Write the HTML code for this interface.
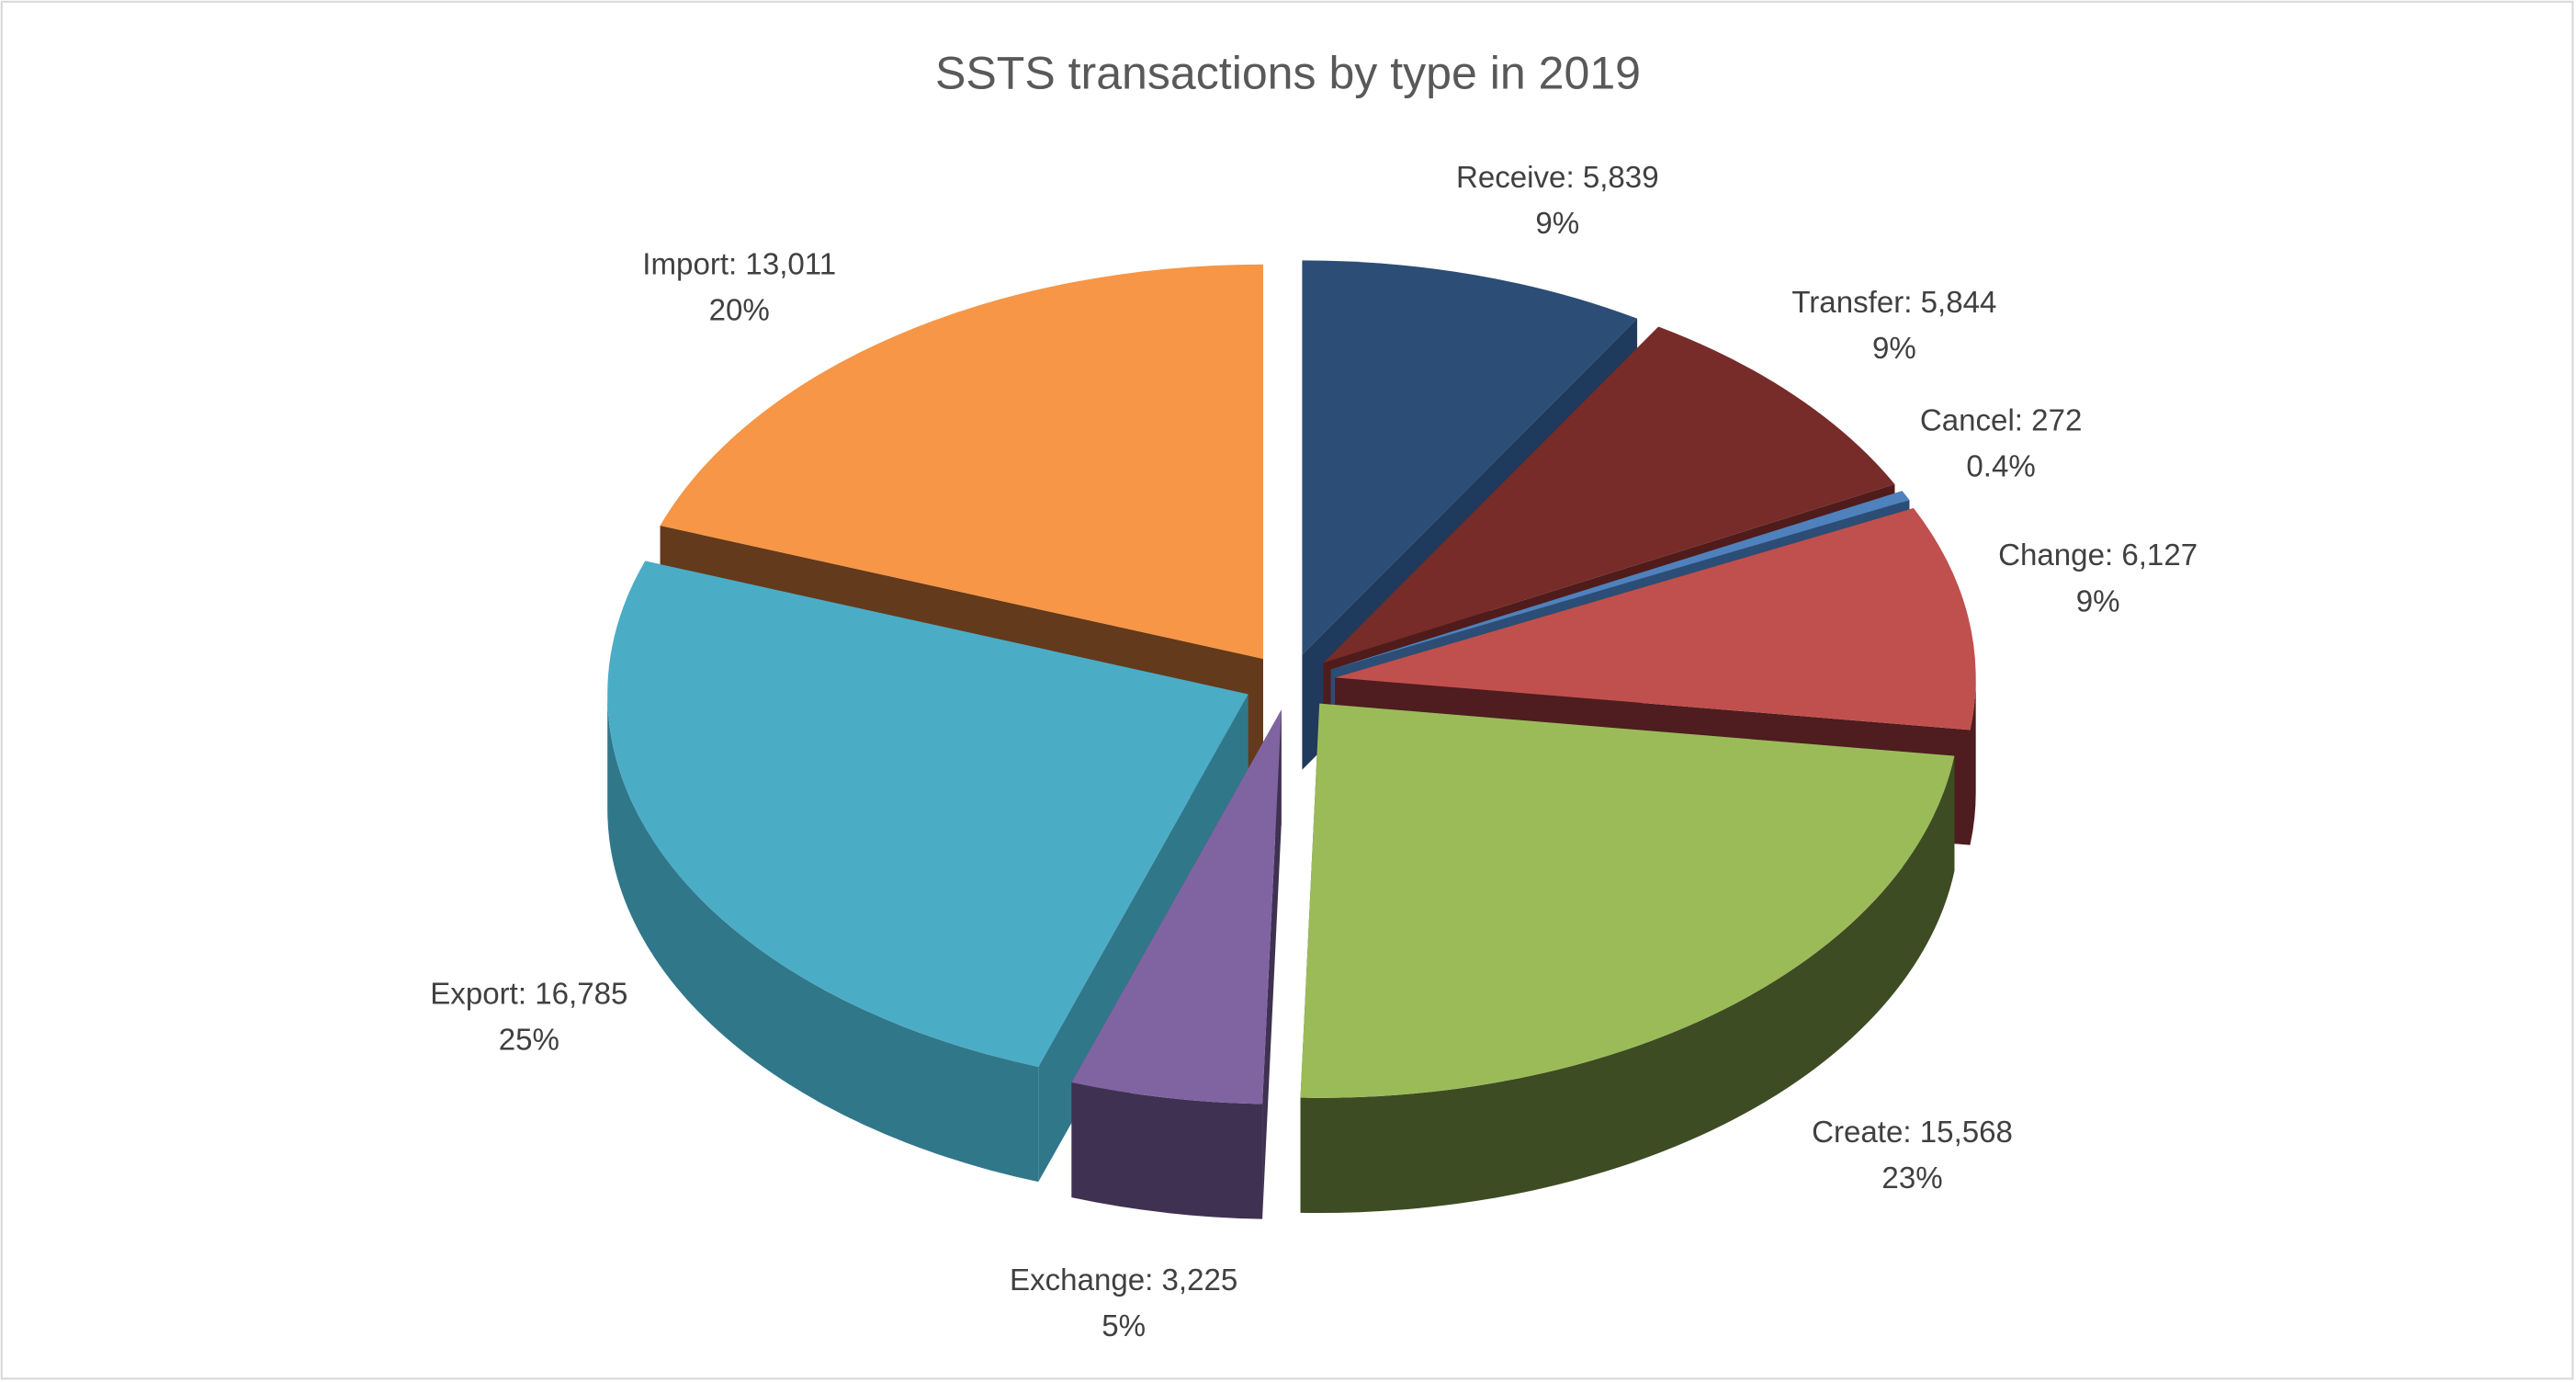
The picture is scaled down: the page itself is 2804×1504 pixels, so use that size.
<!DOCTYPE html>
<html><head><meta charset="utf-8"><style>
html,body{margin:0;padding:0;background:#fff;}
svg{display:block;}
</style></head><body>
<svg id="chart" width="2804" height="1504" viewBox="0 0 1568 841" xmlns="http://www.w3.org/2000/svg">
<rect x="1" y="1" width="1565" height="838" fill="#fff" stroke="#d9d9d9" stroke-width="1.2"/>
<text x="784" y="54" text-anchor="middle" font-family="Liberation Sans, sans-serif" font-size="28" fill="#595959">SSTS transactions by type in 2019</text>
<g id="slices"></g>
<g id="labels"></g>
</svg>
<script>
const categories = ["Receive","Transfer","Cancel","Change","Create","Exchange","Export","Import"];
const values = [5839,5844,272,6127,15568,3225,16785,13011];
const percentLabels = ["9%","9%","0.4%","9%","23%","5%","25%","20%"];
const topColors = ["#2C4D75","#772C2A","#4F81BD","#C0504D","#9BBB59","#8064A2","#4BACC6","#F79646"];
const sideColors = ["#1F3A5C","#4F1C1B","#2C4D75","#4F1C1F","#3D4C23","#3F3151","#31778A","#633A1B"];
// label layout (center of first line), not data
const labelX = [948,1153,1218,1277,1164,684,322,450];
const labelY = [114,190,262,344,695,785,611,167];

const NS="http://www.w3.org/2000/svg";
const cx=785, cy=415, rx=390, ry=240, depth=70, explode=28;
const total = values.reduce((a,b)=>a+b,0);
const rad = d=>d*Math.PI/180;
function pt(ox,oy,t){return [ox+rx*Math.sin(rad(t)), oy-ry*Math.cos(rad(t))];}
function fmt(n){return n.toLocaleString("en-US");}

const slicesG=document.getElementById("slices");
const labelsG=document.getElementById("labels");
let cum=0;
const items=values.map((v,i)=>{
  const a=cum/total*360; cum+=v; const b=cum/total*360;
  return {i,a,b,m:(a+b)/2};
});
const order=items.slice().sort((p,q)=>(-Math.cos(rad(p.m)))-(-Math.cos(rad(q.m))));
order.forEach(s=>{
  const ox=cx+explode*Math.sin(rad(s.m));
  const oy=cy-explode*Math.cos(rad(s.m))*(ry/rx);
  const g=document.createElementNS(NS,"g");
  
  
  [s.a,s.b].forEach(t=>{
    const p=pt(ox,oy,t);
    const w=document.createElementNS(NS,"path");
    w.setAttribute("d",`M${ox},${oy} L${p[0]},${p[1]} L${p[0]},${p[1]+depth} L${ox},${oy+depth} Z`);
    w.setAttribute("fill",sideColors[s.i]);
    
    
    g.appendChild(w);
  });
  const a2=Math.max(s.a,90), b2=Math.min(s.b,270);
  if(b2>a2){
    const p1=pt(ox,oy,a2), p2=pt(ox,oy,b2);
    const lg=(b2-a2)>180?1:0;
    const w=document.createElementNS(NS,"path");
    w.setAttribute("d",`M${p1[0]},${p1[1]} A${rx},${ry} 0 ${lg} 1 ${p2[0]},${p2[1]} L${p2[0]},${p2[1]+depth} A${rx},${ry} 0 ${lg} 0 ${p1[0]},${p1[1]+depth} Z`);
    w.setAttribute("fill",sideColors[s.i]);
    
    
    g.appendChild(w);
  }
  const p1=pt(ox,oy,s.a), p2=pt(ox,oy,s.b);
  const lg=(s.b-s.a)>180?1:0;
  const top=document.createElementNS(NS,"path");
  top.setAttribute("d",`M${ox},${oy} L${p1[0]},${p1[1]} A${rx},${ry} 0 ${lg} 1 ${p2[0]},${p2[1]} Z`);
  top.setAttribute("fill",topColors[s.i]);
  
  
  g.appendChild(top);
  slicesG.appendChild(g);
});
items.forEach(s=>{
  const lx=labelX[s.i], ly=labelY[s.i];
  const t=document.createElementNS(NS,"text");
  
  
  t.setAttribute("x",lx); t.setAttribute("y",ly);
  t.setAttribute("text-anchor","middle");
  t.setAttribute("font-family","Liberation Sans, sans-serif");
  t.setAttribute("font-size","18.5");
  t.setAttribute("fill","#404040");
  const l1=document.createElementNS(NS,"tspan");
  l1.setAttribute("x",lx); l1.textContent=categories[s.i]+": "+fmt(values[s.i]);
  const l2=document.createElementNS(NS,"tspan");
  l2.setAttribute("x",lx); l2.setAttribute("dy","28"); l2.textContent=percentLabels[s.i];
  t.appendChild(l1); t.appendChild(l2);
  labelsG.appendChild(t);
});
</script>
</body></html>
